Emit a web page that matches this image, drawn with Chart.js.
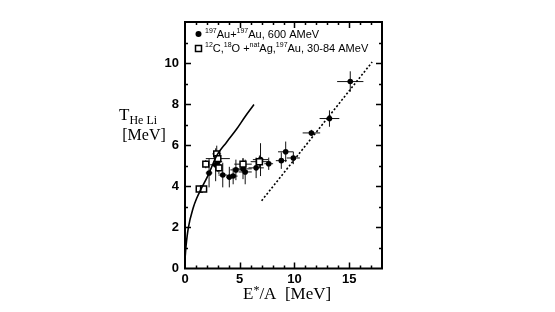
<!DOCTYPE html>
<html>
<head>
<meta charset="utf-8">
<script src="https://cdn.jsdelivr.net/npm/chart.js@4/dist/chart.umd.min.js"></script>
<style>
html,body{margin:0;padding:0;background:#fff;}
#wrap{width:555px;height:312px;position:relative;}
</style>
</head>
<body>
<div id="wrap"><canvas id="c"></canvas></div>
<script>
// ---- data ----
// 197Au+197Au, 600 AMeV (filled circles)
const auX    = [2.2, 2.8, 3.0, 3.45, 4.05, 4.4, 4.65, 5.3, 5.5, 6.5, 6.9, 7.65, 8.8, 9.2, 9.9, 11.55, 13.2, 15.1];
const auY    = [4.65, 5.05, 5.2, 4.55, 4.45, 4.5, 4.8, 4.85, 4.7, 4.9, 5.3, 5.1, 5.25, 5.68, 5.38, 6.6, 7.3, 9.1];
const auXErr = [0.3, 0.5, 0.4, 0.4, 0.3, 0.4, 0.5, 0.8, 0.6, 0.7, 0.7, 0.4, 0.5, 0.7, 0.6, 0.8, 0.9, 1.2];
const auYErr = [0.7, 0.8, 0.5, 0.6, 0.5, 0.4, 0.5, 0.5, 0.6, 0.5, 0.8, 0.3, 0.4, 0.5, 0.3, 0.15, 0.4, 0.5];
// 12C,18O + natAg,197Au, 30-84 AMeV (open squares)
const lightX    = [1.3, 1.7, 1.9, 2.9, 3.0, 3.1, 5.3, 6.8];
const lightY    = [3.87, 3.87, 5.08, 5.58, 5.35, 4.9, 5.08, 5.2];
const lightXErr = [0, 0, 0.3, 0.4, 1.1, 0.3, 0.8, 0.8];
const lightYErr = [0, 0, 0.2, 0.4, 0.3, 0.3, 0.3, 0.3];
// solid curve
const curveX = [0.02, 0.09, 0.3, 0.76, 1.07, 1.43, 2.13, 2.9, 3.8, 4.72, 5.5, 6.3];
const curveY = [0.6, 1.06, 1.96, 2.97, 3.42, 3.83, 4.56, 5.5, 6.15, 6.79, 7.4, 7.98];
// dotted line
const dotX = [7.0, 17.1];
const dotY = [3.3, 10.05];
// axes
const xTickLabels = [0, 5, 10, 15];
const yTickLabels = [0, 2, 4, 6, 8, 10];

const pts = (xs, ys) => xs.map((x, i) => ({x: x, y: ys[i]}));

const errorBars = {
  id: 'errorBars',
  beforeDatasetsDraw(chart) {
    const ctx = chart.ctx, xs = chart.scales.x, ys = chart.scales.y;
    ctx.save();
    ctx.strokeStyle = '#111';
    ctx.lineWidth = 1;
    const sets = [[auX, auY, auXErr, auYErr], [lightX, lightY, lightXErr, lightYErr]];
    sets.forEach(([X, Y, XE, YE]) => {
      X.forEach((x, i) => {
        const px = xs.getPixelForValue(x), py = ys.getPixelForValue(Y[i]);
        ctx.beginPath();
        if (XE[i] > 0) {
          ctx.moveTo(xs.getPixelForValue(x - XE[i]), py);
          ctx.lineTo(xs.getPixelForValue(x + XE[i]), py);
        }
        if (YE[i] > 0) {
          ctx.moveTo(px, ys.getPixelForValue(Y[i] - YE[i]));
          ctx.lineTo(px, ys.getPixelForValue(Y[i] + YE[i]));
        }
        ctx.stroke();
      });
    });
    ctx.restore();
  }
};

const frameTicks = {
  id: 'frameTicks',
  afterDatasetsDraw(chart) {
    const ctx = chart.ctx, a = chart.chartArea, xs = chart.scales.x, ys = chart.scales.y;
    ctx.save();
    ctx.strokeStyle = '#000';
    ctx.lineWidth = 1.5;
    ctx.beginPath();
    xs.ticks.forEach(t => {
      const v = t.value; if (v <= xs.min || v >= xs.max) return;
      const p = Math.round(xs.getPixelForValue(v)) + 0.5;
      const L = (xTickLabels.includes(v)) ? 6 : 3;
      ctx.moveTo(p, a.bottom); ctx.lineTo(p, a.bottom - L);
      ctx.moveTo(p, a.top); ctx.lineTo(p, a.top + L);
    });
    ys.ticks.forEach(t => {
      const v = t.value; if (v <= ys.min || v >= ys.max) return;
      const p = Math.round(ys.getPixelForValue(v)) + 0.5;
      const L = (v % 2 === 0) ? 6 : 3;
      ctx.moveTo(a.left, p); ctx.lineTo(a.left + L, p);
      ctx.moveTo(a.right, p); ctx.lineTo(a.right - L, p);
    });
    ctx.stroke();
    ctx.lineWidth = 2;
    ctx.strokeRect(a.left, a.top, a.right - a.left, a.bottom - a.top);
    ctx.restore();
  },
  afterDraw(chart) {
    const ctx = chart.ctx;
    ctx.save();
    ctx.fillStyle = '#000';
    ctx.textBaseline = 'alphabetic';
    function runs(x, y, parts, family) {
      parts.forEach(([t, s, dy]) => {
        ctx.font = s + 'px ' + family;
        ctx.fillText(t, x, y + dy);
        x += ctx.measureText(t).width;
      });
      return x;
    }
    const sans = '"Liberation Sans", Arial, sans-serif';
    const serif = '"Liberation Serif", "Times New Roman", serif';
    // legend
    ctx.beginPath(); ctx.arc(198.5, 34, 3, 0, Math.PI * 2); ctx.fill();
    runs(205, 38, [['197', 7, -5], ['Au+', 11, 0], ['197', 7, -5], ['Au, 600 AMeV', 11, 0]], sans);
    ctx.lineWidth = 1.5; ctx.strokeStyle = '#000';
    ctx.strokeRect(195.5, 45.5, 6, 6);
    runs(205, 52, [['12', 7, -5], ['C,', 11, 0], ['18', 7, -5], ['O +', 11, 0], ['nat', 7, -5], ['Ag,', 11, 0], ['197', 7, -5], ['Au, 30-84 AMeV', 11, 0]], sans);
    // y title
    runs(119, 120, [['T', 17, 0], ['He Li', 12, 4]], serif);
    ctx.font = '16px ' + serif; ctx.textAlign = 'center';
    ctx.fillText('[MeV]', 144, 140);
    // x title
    ctx.textAlign = 'left';
    runs(243, 299, [['E', 17, 0], ['*', 12, -5], ['/A  [MeV]', 17, 0]], serif);
    ctx.restore();
  }
};

new Chart(document.getElementById('c'), {
  type: 'scatter',
  data: {
    datasets: [
      { label: 'curve', data: pts(curveX, curveY), showLine: true, pointRadius: 0, borderColor: '#000', borderWidth: 1.6, cubicInterpolationMode: 'monotone', fill: false },
      { label: 'dotted', data: pts(dotX, dotY), showLine: true, pointRadius: 0, borderColor: '#000', borderWidth: 1.6, borderDash: [2, 2], fill: false },
      { label: '12C,18O +natAg,197Au, 30-84 AMeV', data: pts(lightX, lightY), pointStyle: 'rect', pointRadius: 4.2, backgroundColor: '#fff', borderColor: '#000', borderWidth: 1.5 },
      { label: '197Au+197Au, 600 AMeV', data: pts(auX, auY), pointStyle: 'circle', pointRadius: 2.8, backgroundColor: '#000', borderColor: '#000', borderWidth: 0 }
    ]
  },
  options: {
    responsive: true,
    maintainAspectRatio: false,
    animation: false,
    layout: { padding: { left: 0, right: 173, top: 22, bottom: 19.5 } },
    plugins: { legend: { display: false }, tooltip: { enabled: false } },
    scales: {
      x: {
        type: 'linear', min: 0, max: 18,
        grid: { display: false, drawTicks: false },
        border: { display: false },
        afterFit(s) { s.height = 24; },
        ticks: {
          stepSize: 1, autoSkip: false, maxRotation: 0, padding: 3,
          color: '#000', font: { family: '"Liberation Sans", Arial, sans-serif', size: 13, weight: 'bold' },
          callback: v => xTickLabels.includes(v) ? String(v) : ''
        }
      },
      y: {
        type: 'linear', min: 0, max: 12,
        grid: { display: false, drawTicks: false },
        border: { display: false },
        afterFit(s) { s.width = 185; },
        ticks: {
          stepSize: 1, autoSkip: false, padding: 6,
          color: '#000', font: { family: '"Liberation Sans", Arial, sans-serif', size: 13, weight: 'bold' },
          callback: v => yTickLabels.includes(v) ? String(v) : ''
        }
      }
    }
  },
  plugins: [errorBars, frameTicks]
});
</script>
</body>
</html>
